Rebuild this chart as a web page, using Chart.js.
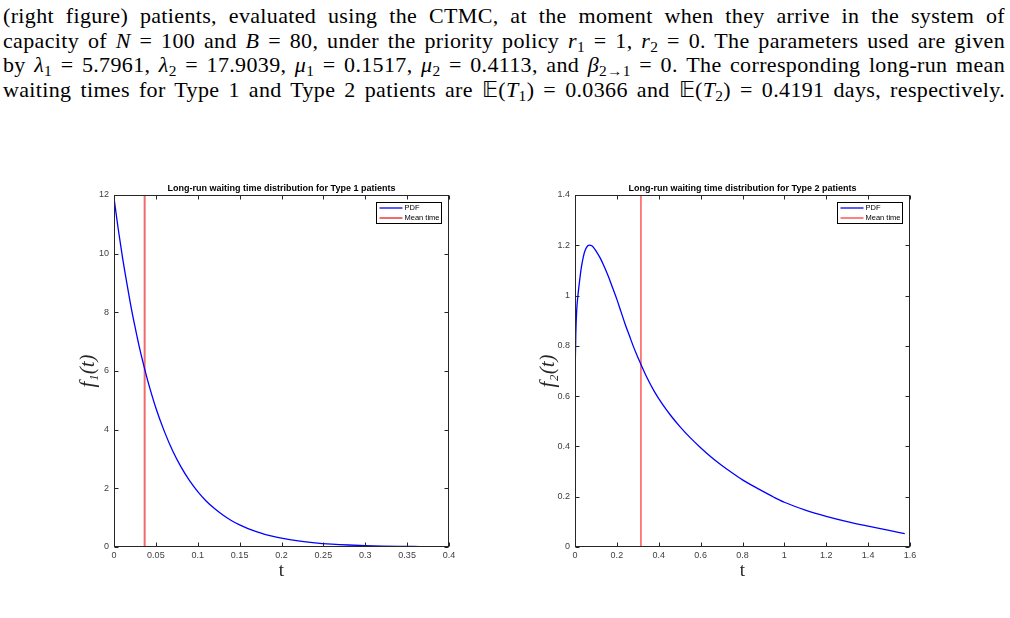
<!DOCTYPE html>
<html>
<head>
<meta charset="utf-8">
<script src="https://cdn.jsdelivr.net/npm/chart.js@4.4.1/dist/chart.umd.min.js"></script>
<style>
  html, body { margin: 0; padding: 0; background: #fff; }
  body { width: 1010px; height: 618px; position: relative; overflow: hidden; }
  #text { position: absolute; left: 3px; top: 4px; width: 1002px; font-family: 'Liberation Serif', serif; font-size: 22px; letter-spacing: 0.35px; line-height: 24.5px; color: #000; }
  #text div { text-align: justify; text-align-last: justify; height: 24.5px; white-space: nowrap; }
  #text sub { font-size: 70%; line-height: 0; vertical-align: -0.25em; }
  .box { position: absolute; top: 180px; width: 400px; height: 402px; }
</style>
</head>
<body>
<div id="text">
  <div>(right figure) patients, evaluated using the CTMC, at the moment when they arrive in the system of</div>
  <div>capacity of <i>N</i> = 100 and <i>B</i> = 80, under the priority policy <i>r</i><sub>1</sub> = 1, <i>r</i><sub>2</sub> = 0. The parameters used are given</div>
  <div>by <i>λ</i><sub>1</sub> = 5.7961, <i>λ</i><sub>2</sub> = 17.9039, <i>μ</i><sub>1</sub> = 0.1517, <i>μ</i><sub>2</sub> = 0.4113, and <i>β</i><sub>2→1</sub> = 0. The corresponding long-run mean</div>
  <div>waiting times for Type 1 and Type 2 patients are 𝔼(<i>T</i><sub>1</sub>) = 0.0366 and 𝔼(<i>T</i><sub>2</sub>) = 0.4191 days, respectively.</div>
</div>
<div class="box" style="left:70px"><canvas id="chart1" width="400" height="402"></canvas></div>
<div class="box" style="left:530px"><canvas id="chart2" width="400" height="402"></canvas></div>
<script>
// Type 1 waiting time pdf
const t1Times = [0, 0.005, 0.01, 0.015, 0.02, 0.025, 0.03, 0.035, 0.04, 0.05, 0.06, 0.07, 0.08, 0.09, 0.10, 0.11, 0.12, 0.13, 0.14, 0.15, 0.16, 0.17, 0.18, 0.19, 0.20, 0.22, 0.24, 0.26, 0.28, 0.30, 0.32, 0.34, 0.365];
const t1Density = [11.9, 10.85, 9.9, 9.05, 8.24, 7.52, 6.85, 6.25, 5.70, 4.74, 3.95, 3.28, 2.73, 2.27, 1.89, 1.57, 1.31, 1.09, 0.905, 0.753, 0.627, 0.521, 0.434, 0.361, 0.300, 0.208, 0.144, 0.100, 0.069, 0.048, 0.033, 0.023, 0.014];
const meanTime1 = 0.0366;

// Type 2 waiting time pdf
const t2Times = [0, 0.004, 0.008, 0.014, 0.02, 0.03, 0.04, 0.05, 0.06, 0.07, 0.08, 0.09, 0.10, 0.12, 0.14, 0.16, 0.18, 0.20, 0.22, 0.24, 0.26, 0.28, 0.30, 0.34, 0.38, 0.42, 0.46, 0.50, 0.55, 0.60, 0.65, 0.70, 0.75, 0.80, 0.85, 0.90, 0.95, 1.00, 1.10, 1.20, 1.30, 1.40, 1.50, 1.575];
const t2Density = [0.668, 0.85, 0.94, 1.00, 1.045, 1.11, 1.155, 1.183, 1.197, 1.201, 1.198, 1.19, 1.178, 1.15, 1.115, 1.075, 1.03, 0.985, 0.935, 0.885, 0.84, 0.795, 0.755, 0.68, 0.617, 0.565, 0.52, 0.48, 0.435, 0.395, 0.358, 0.325, 0.295, 0.267, 0.243, 0.22, 0.198, 0.178, 0.147, 0.122, 0.101, 0.083, 0.066, 0.053];
const meanTime2 = 0.315;

const seriesLabels = ["PDF", "Mean time"];
const titles = ["Long-run waiting time distribution for Type 1 patients", "Long-run waiting time distribution for Type 2 patients"];
const yTitles = ["f₁(t)", "f₂(t)"];

// matlab-like box: frame, inward ticks on all four sides, title over the plot, legend inside
const matlabBox = {
  id: 'matlabBox',
  afterDraw(chart, args, opts) {
    const { ctx, chartArea: a, scales: { x, y } } = chart;
    const L = Math.round(a.left) + 0.5, R = Math.round(a.right) - 0.5;
    const T = Math.round(a.top) + 0.5, B = Math.round(a.bottom) - 0.5;
    ctx.save();
    ctx.strokeStyle = '#262626';
    ctx.lineWidth = 1;
    ctx.beginPath();
    x.ticks.forEach(t => {
      const px = Math.round(x.getPixelForValue(t.value)) + 0.5;
      ctx.moveTo(px, B); ctx.lineTo(px, B - 4);
      ctx.moveTo(px, T); ctx.lineTo(px, T + 4);
    });
    y.ticks.forEach(t => {
      const py = Math.round(y.getPixelForValue(t.value)) + 0.5;
      ctx.moveTo(L, py); ctx.lineTo(L + 4, py);
      ctx.moveTo(R, py); ctx.lineTo(R - 4, py);
    });
    ctx.stroke();
    ctx.strokeRect(L, T, R - L, B - T);

    // title
    ctx.fillStyle = '#000';
    ctx.font = 'bold 9px "Liberation Sans", Arial, sans-serif';
    ctx.textAlign = 'center';
    ctx.textBaseline = 'middle';
    ctx.fillText(opts.title, (a.left + a.right) / 2, a.top - 6);

    // legend
    const w = 65, h = 21;
    const lx = Math.round(a.right - 8 - w) + 0.5, ly = Math.round(a.top + 7) + 0.5;
    ctx.fillStyle = '#fff';
    ctx.fillRect(lx, ly, w, h);
    ctx.strokeStyle = '#000';
    ctx.strokeRect(lx, ly, w, h);
    ctx.font = '7.5px "Liberation Sans", Arial, sans-serif';
    ctx.textAlign = 'left';
    chart.data.datasets.forEach((d, i) => {
      const yy = ly + 5.5 + i * 10;
      ctx.strokeStyle = d.borderColor;
      ctx.lineWidth = d.borderWidth;
      ctx.beginPath();
      ctx.moveTo(lx + 3, yy); ctx.lineTo(lx + 26, yy);
      ctx.stroke();
      ctx.fillStyle = '#000';
      ctx.fillText(d.label, lx + 28, yy);
    });
    ctx.restore();
  }
};

function tickText(v) {
  return String(Math.round(v * 1000) / 1000);
}

function makeChart(id, times, density, meanT, xMax, xStep, yMax, yStep, title, yTitle, meanColor, meanWidth, yWidth, padRight) {
  const ctx = document.getElementById(id).getContext('2d');
  const tickFont = { family: '"Liberation Sans", Arial, sans-serif', size: 9 };
  return new Chart(ctx, {
    type: 'line',
    data: {
      datasets: [
        {
          label: seriesLabels[0],
          data: times.map((t, i) => ({ x: t, y: density[i] })),
          borderColor: '#0000ff',
          borderWidth: 1.3,
          pointRadius: 0,
          cubicInterpolationMode: 'monotone',
          fill: false
        },
        {
          label: seriesLabels[1],
          data: [{ x: meanT, y: 0 }, { x: meanT, y: yMax }],
          borderColor: meanColor,
          borderWidth: meanWidth,
          pointRadius: 0,
          fill: false
        }
      ]
    },
    options: {
      responsive: false,
      animation: false,
      layout: { padding: { top: 15, right: padRight, bottom: 0, left: 0 } },
      plugins: {
        legend: { display: false },
        tooltip: { enabled: false },
        matlabBox: { title: title }
      },
      scales: {
        x: {
          type: 'linear',
          min: 0,
          max: xMax,
          ticks: { stepSize: xStep, padding: 3, color: '#404040', font: tickFont, maxRotation: 0, autoSkip: false, callback: tickText },
          grid: { display: false, drawTicks: false },
          border: { display: false },
          title: { display: true, text: 't', color: '#262626', font: { family: '"Liberation Serif", serif', size: 19 }, padding: 0 },
          afterFit(s) { s.height = 35; s.paddingLeft = 0; s.paddingRight = 0; }
        },
        y: {
          min: 0,
          max: yMax,
          ticks: { stepSize: yStep, padding: 5, color: '#404040', font: tickFont, callback: tickText },
          grid: { display: false, drawTicks: false },
          border: { display: false },
          title: { display: true, text: yTitle, color: '#262626', font: { family: '"Liberation Serif", serif', size: 21, style: 'italic' }, padding: { top: 6, bottom: 0 } },
          afterFit(s) { s.width = yWidth; s.paddingTop = 0; s.paddingBottom = 0; }
        }
      }
    },
    plugins: [matlabBox]
  });
}

makeChart('chart1', t1Times, t1Density, meanTime1, 0.4, 0.05, 12, 2, titles[0], yTitles[0], '#f26b6b', 2, 44, 21);
makeChart('chart2', t2Times, t2Density, meanTime2, 1.6, 0.2, 1.4, 0.2, titles[1], yTitles[1], '#ff0000', 1, 45, 20);
</script>
</body>
</html>
